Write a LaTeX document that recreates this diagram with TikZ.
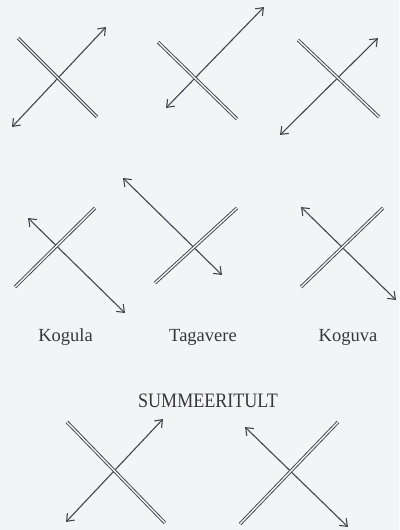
\documentclass[tikz,border=0pt]{standalone}
\usepackage{fontspec}
\setmainfont{Liberation Serif}
\usetikzlibrary{arrows.meta}
\definecolor{bgc}{HTML}{F2F5F6}
\definecolor{ink}{HTML}{45454D}
\tikzset{
  road/.style={draw=ink, line width=0.95pt, double=bgc, double distance=1.4pt},
  flow/.style={draw=ink, line width=1.1pt, {Straight Barb[length=6.5pt,width=10pt]}-{Straight Barb[length=6.5pt,width=10pt]}},
  lbl/.style={anchor=base, text=ink!80!black, inner sep=0pt, font=\fontsize{18.5}{20}\selectfont}
}
\begin{document}
\begin{tikzpicture}[x=1pt,y=-1pt]
\fill[bgc] (0,0) rectangle (399,530);
\useasboundingbox (0,0) rectangle (399,530);
% panel 1
\coordinate (r1a) at (18,38);  \coordinate (r1b) at (97,117);
\coordinate (f1a) at (12,127); \coordinate (f1b) at (106,27);
% panel 2
\coordinate (r2a) at (158,42); \coordinate (r2b) at (237,119);
\coordinate (f2a) at (166,108); \coordinate (f2b) at (264,7);
% panel 3
\coordinate (r3a) at (298,40); \coordinate (r3b) at (379,117);
\coordinate (f3a) at (280,135); \coordinate (f3b) at (378,38);
% panel 4
\coordinate (r4a) at (15,287); \coordinate (r4b) at (95,208);
\coordinate (f4a) at (28,218); \coordinate (f4b) at (125,313);
% panel 5
\coordinate (r5a) at (155,283); \coordinate (r5b) at (237,208);
\coordinate (f5a) at (123,178); \coordinate (f5b) at (222,275);
% panel 6
\coordinate (r6a) at (301,287); \coordinate (r6b) at (383,208);
\coordinate (f6a) at (301,207); \coordinate (f6b) at (396,300);
% panel 7
\coordinate (r7a) at (67,422); \coordinate (r7b) at (165,523);
\coordinate (f7a) at (66,522); \coordinate (f7b) at (163,419);
% panel 8
\coordinate (r8a) at (240,524); \coordinate (r8b) at (338,422);
\coordinate (f8a) at (245,427); \coordinate (f8b) at (348,527);

\foreach \i in {1,...,8}{
  \draw[flow] (f\i a) -- (f\i b);
  \draw[road] (r\i a) -- (r\i b);
}

\node[lbl] (kogula) at (65.5,341) {Kogula};
\node[lbl] (tagavere) at (203,341) {Tagavere};
\node[lbl] (koguva) at (348,341) {Koguva};
\node[lbl] (summ) at (208,407) {\scalebox{0.88}[1]{\fontsize{20.5}{22}\selectfont SUMMEERITULT}};
\end{tikzpicture}
\end{document}
